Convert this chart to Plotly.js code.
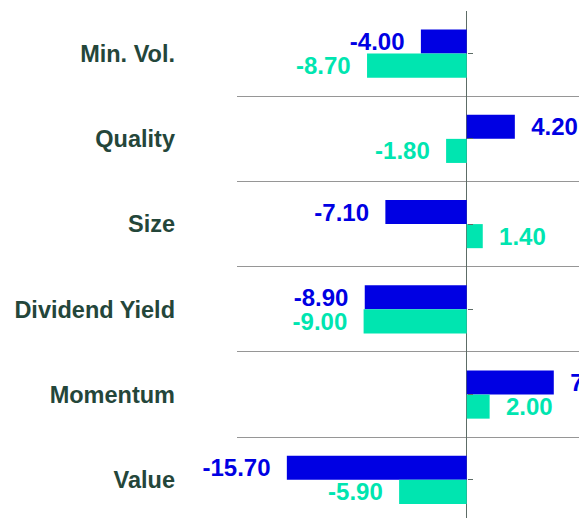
<!DOCTYPE html>
<html>
<head>
<meta charset="utf-8">
<script src="https://cdn.plot.ly/plotly-3.0.1.min.js"></script>
<style>html,body{margin:0;padding:0;background:#fff;overflow:hidden}#chart{width:579px;height:518px}</style>
</head>
<body>
<div id="chart"></div>
<script>
var categories = ["Min. Vol.", "Quality", "Size", "Dividend Yield", "Momentum", "Value"];
var seriesA = [-4.00, 4.20, -7.10, -8.90, 7.60, -15.70];
var seriesB = [-8.70, -1.80, 1.40, -9.00, 2.00, -5.90];
var seriesNames = ["Series A", "Series B"];
var colors = ["#0000e3", "#00e5b0"];

var PAD = "\u00a0\u00a0";
function labels(vals) {
  return vals.map(function (v) {
    var s = v.toFixed(2);
    return v < 0 ? s + PAD : PAD + s;
  });
}
var FONT = "Liberation Sans, Arial, sans-serif";

function barTrace(vals, name, color) {
  return {
    type: "bar",
    orientation: "h",
    y: categories,
    x: vals,
    name: name,
    marker: { color: color, line: { width: 0 } },
    text: labels(vals),
    textposition: "outside",
    cliponaxis: false,
    constraintext: "none",
    textfont: { family: FONT, size: 24, color: color, weight: "bold" },
    hoverinfo: "x+y"
  };
}

var data = [
  barTrace(seriesA, seriesNames[0], colors[0]),
  barTrace(seriesB, seriesNames[1], colors[1]),
  { type: "scatter", x: [], y: [], yaxis: "y2", showlegend: false, hoverinfo: "skip" }
];

var yRange = [5.448, -0.5];
var layout = {
  width: 579,
  height: 518,
  margin: { l: 237, r: 0, t: 11, b: 0 },
  paper_bgcolor: "#ffffff",
  plot_bgcolor: "#ffffff",
  showlegend: false,
  barmode: "group",
  bargap: 0.435,
  bargroupgap: 0,
  font: { family: FONT },
  xaxis: {
    range: [-20.05, 9.8],
    showgrid: false,
    showticklabels: false,
    ticks: "",
    zeroline: true,
    zerolinecolor: "#5d6c66",
    zerolinewidth: 1.5,
    fixedrange: true
  },
  yaxis: {
    type: "category",
    range: yRange,
    tickson: "boundaries",
    showgrid: true,
    gridcolor: "#969696",
    gridwidth: 1,
    ticks: "",
    zeroline: false,
    showline: false,
    ticklabelstandoff: 61,
    tickfont: { family: FONT, size: 23.5, color: "#24463a", weight: "bold" },
    fixedrange: true
  },
  yaxis2: {
    overlaying: "y",
    anchor: "free",
    position: 20.05 / 29.85,
    side: "right",
    range: yRange,
    tickvals: [0, 1, 2, 3, 4, 5],
    ticks: "outside",
    ticklen: 5,
    tickwidth: 1.2,
    tickcolor: "#5d6c66",
    showticklabels: false,
    showgrid: false,
    zeroline: false,
    showline: false,
    fixedrange: true
  }
};

Plotly.newPlot("chart", data, layout, { displayModeBar: false, staticPlot: true });
</script>
</body>
</html>
